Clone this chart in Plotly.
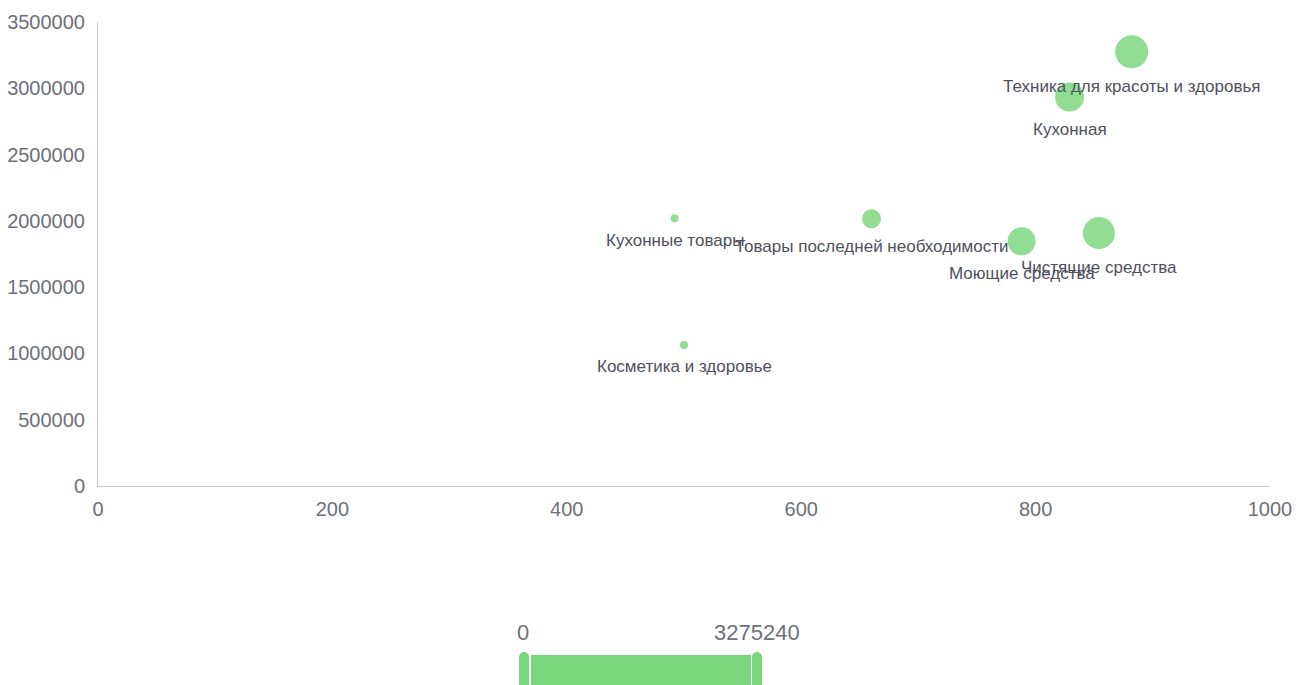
import plotly.graph_objects as go

# ---- data ----
names = [
    "Техника для красоты и здоровья",
    "Кухонная",
    "Кухонные товары",
    "Товары последней необходимости",
    "Моющие средства",
    "Чистящие средства",
    "Косметика и здоровье",
]
x_vals = [882, 829, 492, 660, 788, 854, 500]
y_vals = [3275240, 2935000, 2020000, 2016000, 1846000, 1908000, 1064000]
bubble_size = [33, 29, 8, 19, 28, 32, 8]
visual_min = 0
visual_max = 3275240
x_ticks = [0, 200, 400, 600, 800, 1000]
y_ticks = [0, 500000, 1000000, 1500000, 2000000, 2500000, 3000000, 3500000]

# ---- layout geometry (pixels) ----
W, H = 1303, 685
L, R, T, B = 98, 33, 22, 199
pw, ph = W - L - R, H - T - B


def px(xp):
    return (xp - L) / pw


def py(yp):
    return (H - B - yp) / ph


GREEN = "#7ad67c"
BUBBLE = "#91dd93"
AXIS_TXT = "#6e7079"
LABEL_TXT = "#50505c"
FONT = "Liberation Sans, Arial, sans-serif"

fig = go.Figure()
fig.add_trace(go.Scatter(
    x=x_vals, y=y_vals, mode="markers",
    text=names,
    marker=dict(size=bubble_size, color=BUBBLE, opacity=1, line=dict(width=0)),
    hoverinfo="text", cliponaxis=False, showlegend=False,
))

annotations = []
for n, xv, yv, s in zip(names, x_vals, y_vals, bubble_size):
    annotations.append(dict(
        text=n, x=xv, y=yv, xref="x", yref="y", showarrow=False,
        xanchor="center", yanchor="middle", yshift=-(s / 2 + 18),
        font=dict(family=FONT, size=17, color=LABEL_TXT)))

shapes = []
# visual map bar
shapes.append(dict(type="rect", xref="paper", yref="paper",
                   x0=px(531), x1=px(751), y0=py(700), y1=py(655),
                   fillcolor=GREEN, line=dict(width=0), layer="above"))
for hx0 in (519, 752):
    hx1 = hx0 + 10
    shapes.append(dict(type="rect", xref="paper", yref="paper",
                       x0=px(hx0), x1=px(hx1), y0=py(700), y1=py(657),
                       fillcolor=GREEN, line=dict(width=0), layer="above"))
    shapes.append(dict(type="circle", xref="paper", yref="paper",
                       x0=px(hx0), x1=px(hx1), y0=py(662), y1=py(652),
                       fillcolor=GREEN, line=dict(width=0), layer="above"))

annotations += [
    dict(text=str(visual_min), x=px(523), y=py(632), xref="paper", yref="paper",
         xanchor="center", yanchor="middle", showarrow=False,
         font=dict(family=FONT, size=22, color=AXIS_TXT)),
    dict(text=str(visual_max), x=px(757), y=py(632), xref="paper", yref="paper",
         xanchor="center", yanchor="middle", showarrow=False,
         font=dict(family=FONT, size=22, color=AXIS_TXT)),
]

fig.update_layout(
    width=W, height=H,
    margin=dict(l=L, r=R, t=T, b=B, pad=0, autoexpand=False),
    paper_bgcolor="white", plot_bgcolor="white",
    font=dict(family=FONT, color=AXIS_TXT),
    shapes=shapes, annotations=annotations,
    xaxis=dict(range=[0, 1000], tickvals=x_ticks, ticktext=[str(v) for v in x_ticks],
               showgrid=False, zeroline=False, showline=True, linecolor="#c8c8cc", linewidth=1,
               ticks="outside", ticklen=5, tickcolor="rgba(0,0,0,0)", automargin=False,
               tickfont=dict(family=FONT, size=20, color=AXIS_TXT), fixedrange=True),
    yaxis=dict(range=[0, 3500000], tickvals=y_ticks, ticktext=[str(v) for v in y_ticks],
               showgrid=False, zeroline=False, showline=True, linecolor="#c8c8cc", linewidth=1,
               ticks="outside", ticklen=8, tickcolor="rgba(0,0,0,0)", automargin=False,
               tickfont=dict(family=FONT, size=20, color=AXIS_TXT), fixedrange=True),
)

fig.write_html("out.html")
